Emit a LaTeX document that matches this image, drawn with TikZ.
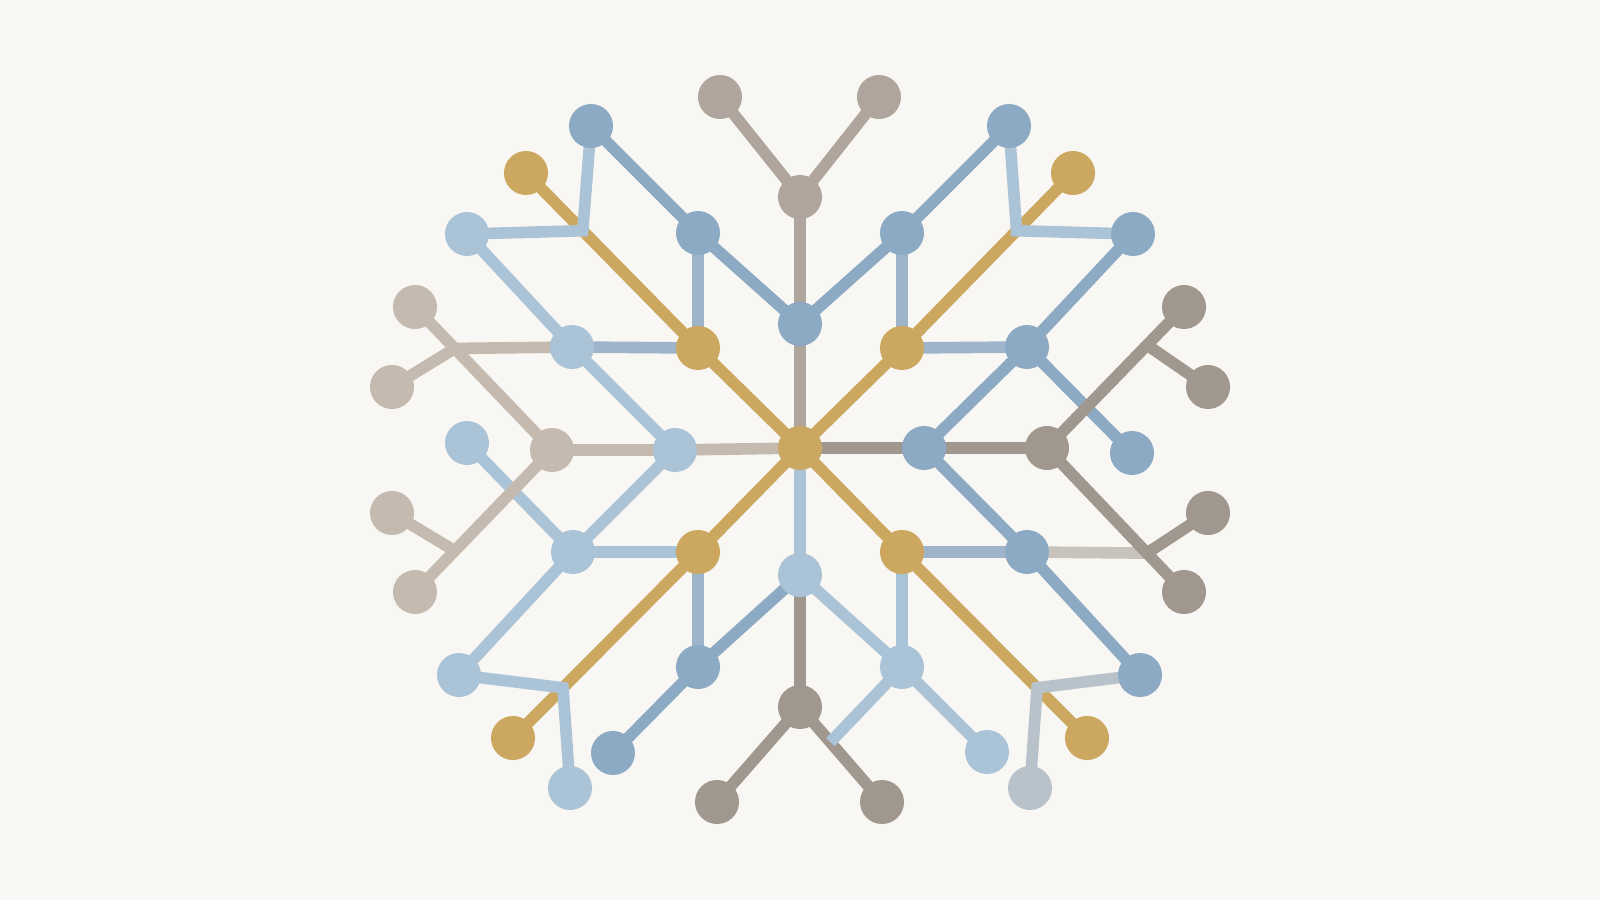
\documentclass[tikz,border=0pt]{standalone}
\usetikzlibrary{calc}
\definecolor{bgcol}{HTML}{F9F7F3}
\definecolor{goldc}{HTML}{CBA760}
\definecolor{bluec}{HTML}{8DAAC5}
\definecolor{midblue}{HTML}{9DB4CA}
\definecolor{lblue}{HTML}{ABC3D6}
\definecolor{greyd}{HTML}{A0978F}
\definecolor{greym}{HTML}{AFA59C}
\definecolor{greyt}{HTML}{C5BAB0}
\definecolor{lgrey}{HTML}{C9C3BD}
\definecolor{greyblue}{HTML}{B8C2CB}
\pgfdeclarelayer{paper}
\pgfdeclarelayer{edges}
\pgfsetlayers{paper,edges,main}

\begin{document}
\begin{tikzpicture}[x=0.01cm,y=-0.01cm,
    dot/.style={circle,inner sep=0pt,minimum size=0.44cm},
    link/.style={line width=3.3pt}]
\begin{pgfonlayer}{paper}
\fill[bgcol] (0,0) rectangle (1600,900);
\end{pgfonlayer}
\useasboundingbox (0,0) rectangle (1600,900);
% nodes
\node[dot,fill=goldc] (c) at (800,448) {};
\node[dot,fill=greym] (tg) at (800,197) {};
\node[dot,fill=greym] (tgl) at (720,97) {};
\node[dot,fill=greym] (tgr) at (879,97) {};
\node[dot,fill=bluec] (tb) at (800,324) {};
\node[dot,fill=bluec] (bnw1) at (698,233) {};
\node[dot,fill=bluec] (bnw2) at (591,126) {};
\node[dot,fill=bluec] (bne1) at (902,233) {};
\node[dot,fill=bluec] (bne2) at (1009,126) {};
\node[dot,fill=goldc] (gnw1) at (698,348) {};
\node[dot,fill=goldc] (gnw2) at (526,173) {};
\node[dot,fill=goldc] (gne1) at (902,348) {};
\node[dot,fill=goldc] (gne2) at (1073,173) {};
\node[dot,fill=goldc] (gsw1) at (698,552) {};
\node[dot,fill=goldc] (gsw2) at (513,738) {};
\node[dot,fill=goldc] (gse1) at (902,552) {};
\node[dot,fill=goldc] (gse2) at (1087,738) {};
\node[dot,fill=lblue] (lb1) at (572,347) {};
\node[dot,fill=lblue] (lb2) at (467,234) {};
\node[dot,fill=lblue] (lb3) at (675,450) {};
\node[dot,fill=lblue] (lb4) at (467,443) {};
\node[dot,fill=lblue] (lb5) at (573,552) {};
\node[dot,fill=lblue] (lb6) at (459,675) {};
\node[dot,fill=lblue] (lb7) at (570,788) {};
\node[dot,fill=greyt] (gl) at (552,450) {};
\node[dot,fill=greyt] (gl1) at (415,307) {};
\node[dot,fill=greyt] (gl2) at (392,387) {};
\node[dot,fill=greyt] (gl3) at (392,513) {};
\node[dot,fill=greyt] (gl4) at (415,592) {};
\node[dot,fill=bluec] (bsw1) at (698,667) {};
\node[dot,fill=bluec] (bsw2) at (613,753) {};
\node[dot,fill=lblue] (lbb) at (800,575) {};
\node[dot,fill=greyd] (gb) at (800,707) {};
\node[dot,fill=greyd] (gbl) at (717,802) {};
\node[dot,fill=greyd] (gbr) at (882,802) {};
\node[dot,fill=lblue] (lbs1) at (902,667) {};
\node[dot,fill=lblue] (lbs2) at (987,752) {};
\node[dot,fill=bluec] (br1) at (1027,347) {};
\node[dot,fill=bluec] (br2) at (1133,234) {};
\node[dot,fill=bluec] (br3) at (924,448) {};
\node[dot,fill=bluec] (br4) at (1132,453) {};
\node[dot,fill=bluec] (br5) at (1027,552) {};
\node[dot,fill=bluec] (br6) at (1140,675) {};
\node[dot,fill=greyblue] (lgb) at (1030,788) {};
\node[dot,fill=greyd] (gr) at (1047,448) {};
\node[dot,fill=greyd] (gr1) at (1184,307) {};
\node[dot,fill=greyd] (gr2) at (1208,387) {};
\node[dot,fill=greyd] (gr3) at (1208,513) {};
\node[dot,fill=greyd] (gr4) at (1184,592) {};
% junctions on the long lines
\coordinate (jnw) at ($(gnw2)!0.33!(gnw1)$);
\coordinate (jne) at ($(gne2)!0.33!(gne1)$);
\coordinate (jsw) at ($(gsw2)!0.27!(gsw1)$);
\coordinate (jse) at ($(gse2)!0.27!(gse1)$);
\coordinate (jl1) at ($(gl1)!0.29!(gl)$);
\coordinate (jl2) at ($(gl4)!0.29!(gl)$);
\coordinate (jr1) at ($(gr1)!0.27!(gr)$);
\coordinate (jr2) at ($(gr4)!0.27!(gr)$);
\coordinate (jb) at ($(gb)!0.37!(gbr)$);
\begin{pgfonlayer}{edges}
% spine
\draw[link,greym] (tg.center) -- (tb.center) -- (c.center);
\draw[link,greym] (tgl.center) -- (tg.center) -- (tgr.center);
\draw[link,lblue] (c.center) -- (lbb.center);
\draw[link,greyd] (lbb.center) -- (gb.center);
\draw[link,greyd] (gbl.center) -- (gb.center) -- (gbr.center);
\draw[link,greyt] (c.center) -- (lb3.center) -- (gl.center);
\draw[link,greyd] (c.center) -- (br3.center) -- (gr.center);
% gold diagonals
\draw[link,goldc] (c.center) -- (gnw1.center) -- (gnw2.center);
\draw[link,goldc] (c.center) -- (gne1.center) -- (gne2.center);
\draw[link,goldc] (c.center) -- (gsw1.center) -- (gsw2.center);
\draw[link,goldc] (c.center) -- (gse1.center) -- (gse2.center);
% upper blue
\draw[link,bluec] (tb.center) -- (bnw1.center) -- (bnw2.center);
\draw[link,bluec] (tb.center) -- (bne1.center) -- (bne2.center);
\draw[link,midblue] (bnw1.center) -- (gnw1.center) -- (lb1.center);
\draw[link,midblue] (bne1.center) -- (gne1.center) -- (br1.center);
\draw[link,lblue] (bnw2.center) -- (jnw) -- (lb2.center);
\draw[link,lblue] (bne2.center) -- (jne) -- (br2.center);
% left
\draw[link,lblue] (lb2.center) -- (lb1.center) -- (lb3.center) -- (lb5.center);
\draw[link,lblue] (lb4.center) -- (lb5.center) -- (lb6.center);
\draw[link,lblue] (lb5.center) -- (gsw1.center);
\draw[link,lblue] (lb6.center) -- (jsw) -- (lb7.center);
\draw[link,greyt] (gl1.center) -- (gl.center) -- (gl4.center);
\draw[link,greyt] (gl2.center) -- (jl1) -- (lb1.center);
\draw[link,greyt] (gl3.center) -- (jl2);
% lower middle
\draw[link,midblue] (gsw1.center) -- (bsw1.center);
\draw[link,bluec] (bsw2.center) -- (bsw1.center) -- (lbb.center);
\draw[link,lblue] (lbb.center) -- (lbs1.center) -- (lbs2.center);
\draw[link,lblue] (gse1.center) -- (lbs1.center) -- (jb);
% right
\draw[link,bluec] (br2.center) -- (br1.center) -- (br3.center) -- (br5.center) -- (br6.center);
\draw[link,bluec] (br1.center) -- (br4.center);
\draw[link,midblue] (gse1.center) -- (br5.center);
\draw[link,lgrey] (br5.center) -- (jr2);
\draw[link,greyblue] (br6.center) -- (jse) -- (lgb.center);
\draw[link,greyd] (gr1.center) -- (gr.center) -- (gr4.center);
\draw[link,greyd] (gr2.center) -- (jr1);
\draw[link,greyd] (gr3.center) -- (jr2);
\end{pgfonlayer}
\end{tikzpicture}
\end{document}
